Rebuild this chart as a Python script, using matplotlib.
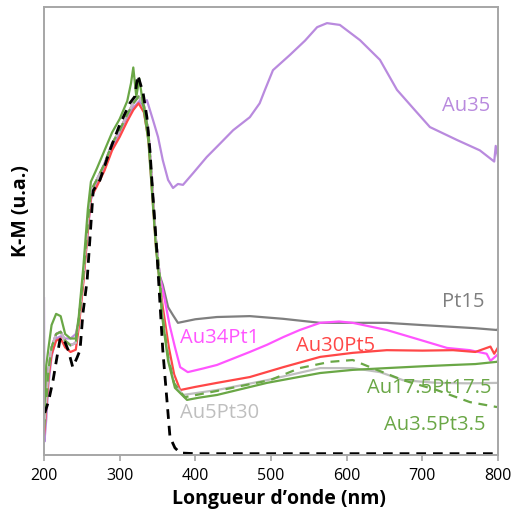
import matplotlib
matplotlib.use("Agg")
import matplotlib.pyplot as plt

# ---- data ----
rise_nm = [200, 203, 206, 210, 216, 222, 228, 235, 242, 246, 252, 258, 262, 270, 280, 290, 300, 310, 318, 325, 332, 338, 343, 348, 353]
rise_km = [6, 12, 19, 24, 27, 27.5, 25.5, 24.5, 25, 30, 40, 52, 59, 61.5, 65, 69.5, 72.5, 76, 78.5, 80, 78, 72, 60, 48, 40]

green_rise_nm = [200, 203, 206, 210, 216, 222, 228, 235, 242, 246, 252, 258, 262, 270, 280, 290, 300, 310, 315, 318, 322, 326, 332, 338, 343, 348, 353]
green_rise_km = [9, 20, 24, 29, 31.5, 31, 27, 26, 26, 31, 42, 55, 61, 64, 68, 72, 75, 79, 83, 86.5, 80, 84, 77, 70, 58, 46, 38]

pt15_nm = [357, 364, 370.5, 377, 400, 428.6, 472, 516, 565, 608, 653, 700, 740.5, 770, 798.7, 800]
pt15_km = [38, 33, 31.2, 29.5, 30.3, 30.8, 31.0, 30.4, 29.5, 29.5, 29.5, 29.0, 28.6, 28.3, 27.9, 28.2]

au34pt1_nm = [358, 366, 373, 380, 390, 410, 428.6, 472, 494.7, 516, 538, 565, 590, 608, 653, 697, 732.6, 763, 785, 790, 798.7]
au34pt1_km = [36, 29, 24.1, 19.6, 18.5, 19.3, 20.1, 23.0, 24.6, 26.3, 27.9, 29.5, 29.8, 29.5, 27.9, 25.7, 23.9, 23.4, 22.6, 21.0, 22.3]

au30pt5_nm = [357, 365, 372, 380, 400, 428.6, 472, 516, 565, 608, 653, 700, 740.5, 770, 790, 795, 800]
au30pt5_km = [33, 24, 18, 14.5, 15.2, 16.1, 17.4, 19.6, 21.9, 22.8, 23.4, 23.3, 23.4, 23.0, 24.2, 22.6, 24.0]

au5pt30_nm = [356, 364, 372, 383.7, 400, 428.6, 494.7, 565, 608, 644, 674.5, 719, 760, 800]
au5pt30_km = [32, 22, 16, 13.4, 13.8, 14.5, 16.7, 19.4, 19.4, 18.5, 16.7, 16.1, 16.0, 16.1]

au175_nm = [356, 364, 373, 389, 405, 428.6, 494.7, 565, 608, 653, 700, 740.5, 770, 798.7, 800]
au175_km = [31, 21, 15, 12.3, 12.8, 13.4, 16.1, 18.3, 19.0, 19.4, 19.8, 20.1, 20.3, 20.8, 21.0]

au35pt35_nm = [356, 364, 372, 386, 428.6, 472, 498.7, 538, 578, 608, 631, 674.5, 719, 763, 798.7]
au35pt35_km = [32, 22, 16, 12.9, 14.3, 15.8, 16.7, 19.4, 20.8, 21.2, 19.6, 16.7, 14.5, 11.8, 10.7]

au35_nm = [200, 200.6, 203, 206, 210, 216, 222, 228, 235, 242, 246, 252, 258, 262, 270, 280, 290, 300, 310, 318, 326, 330, 336, 344, 350.7, 357, 364, 370.5, 377, 383.7, 397, 415, 432.6, 450, 472, 485, 492, 502.6, 525, 545, 561, 574, 591, 617.6, 644, 666.5, 690, 710, 746, 776, 795, 797, 800]
au35_km = [35, 3, 8, 16, 22, 26, 26.5, 26, 26, 27, 30, 39, 50, 57, 60.5, 64, 68.5, 72, 75.5, 77.5, 79, 78, 79.2, 74.8, 71, 65.8, 61.4, 59.6, 60.5, 60.3, 62.9, 66.5, 69.5, 72.5, 75.4, 78.5, 81.5, 85.9, 89.3, 92.5, 95.5, 96.4, 96.0, 92.6, 88.2, 81.5, 77.0, 73.2, 70.3, 68.0, 65.5, 69, 66.5]

ref_nm = [201, 206, 212, 221, 225, 232, 238, 243.6, 247.6, 251.5, 257, 265, 274, 287, 300, 313.7, 320, 324, 331, 336, 340, 344, 349, 357, 366.5, 373, 380, 400, 500, 600, 700, 800]
ref_km = [9.4, 12, 16.7, 25.7, 26.3, 23.4, 19.6, 21.7, 23.4, 31.7, 39, 59, 61.4, 68, 73.7, 78.6, 80, 84.8, 80.8, 75.4, 68, 57.6, 45.8, 23.4, 4.0, 1.6, 0.45, 0.3, 0.3, 0.3, 0.3, 0.3]

labels = ["Au35", "Pt15", "Au34Pt1", "Au30Pt5", "Au17.5Pt17.5", "Au5Pt30", "Au3.5Pt3.5"]
label_nm = [726, 726, 380, 533, 627, 380, 649]
label_km = [78, 34.2, 26.1, 24.3, 15.0, 9.4, 6.7]

xticks = [200, 300, 400, 500, 600, 700, 800]

# ---- colours ----
c_au35 = "#b98ade"
c_pt15 = "#7f7f7f"
c_au34 = "#ff55ff"
c_au30 = "#ff4747"
c_au5 = "#bfbfbf"
c_green = "#6aa746"
label_colors = [c_au35, c_pt15, c_au34, c_au30, c_green, c_au5, c_green]

fig = plt.figure(figsize=(5.12, 5.18), dpi=100)
ax = fig.add_axes([44/512, 1 - 455/518, 454/512, 448/518])

lw = 1.6
ax.plot(au35_nm, au35_km, color=c_au35, lw=lw)
ax.plot(rise_nm + pt15_nm, rise_km + pt15_km, color=c_pt15, lw=lw)
ax.plot(rise_nm + au34pt1_nm, rise_km + au34pt1_km, color=c_au34, lw=lw)
ax.plot(rise_nm + au30pt5_nm, [k - 1.5 for k in rise_km] + au30pt5_km, color=c_au30, lw=lw)
ax.plot(rise_nm + au5pt30_nm, rise_km + au5pt30_km, color=c_au5, lw=lw)
ax.plot(green_rise_nm + au175_nm, green_rise_km + au175_km, color=c_green, lw=lw)
ax.plot(rise_nm + au35pt35_nm, rise_km + au35pt35_km, color=c_green, lw=lw, ls=(0, (4, 3)))
ax.plot(ref_nm, ref_km, color="black", lw=2.0, ls=(0, (3.5, 2.5)))

for t, x, y, c in zip(labels, label_nm, label_km, label_colors):
    ax.text(x, y, t, color=c, fontsize=14.5, family="Open Sans", va="center", ha="left")

ax.set_xlim(200, 800)
ax.set_ylim(0, 100)
ax.set_xticks(xticks)
ax.set_xticklabels([str(v) for v in xticks], fontsize=11.5, family="Open Sans")
ax.set_yticks([])
for s in ax.spines.values():
    s.set_color("#a6a6a6")
    s.set_linewidth(1.4)
ax.tick_params(axis="x", direction="out", length=4, width=1.2, color="#a6a6a6", pad=5)
ax.set_xlabel("Longueur d\u2019onde (nm)", fontsize=14, fontweight="bold", family="Open Sans")
ax.set_ylabel("K-M (u.a.)", fontsize=14, fontweight="bold", family="Open Sans")
ax.xaxis.set_label_coords(0.518, -0.075)
ax.yaxis.set_label_coords(-0.028, 0.545)

fig.savefig("out.png", dpi=100)
